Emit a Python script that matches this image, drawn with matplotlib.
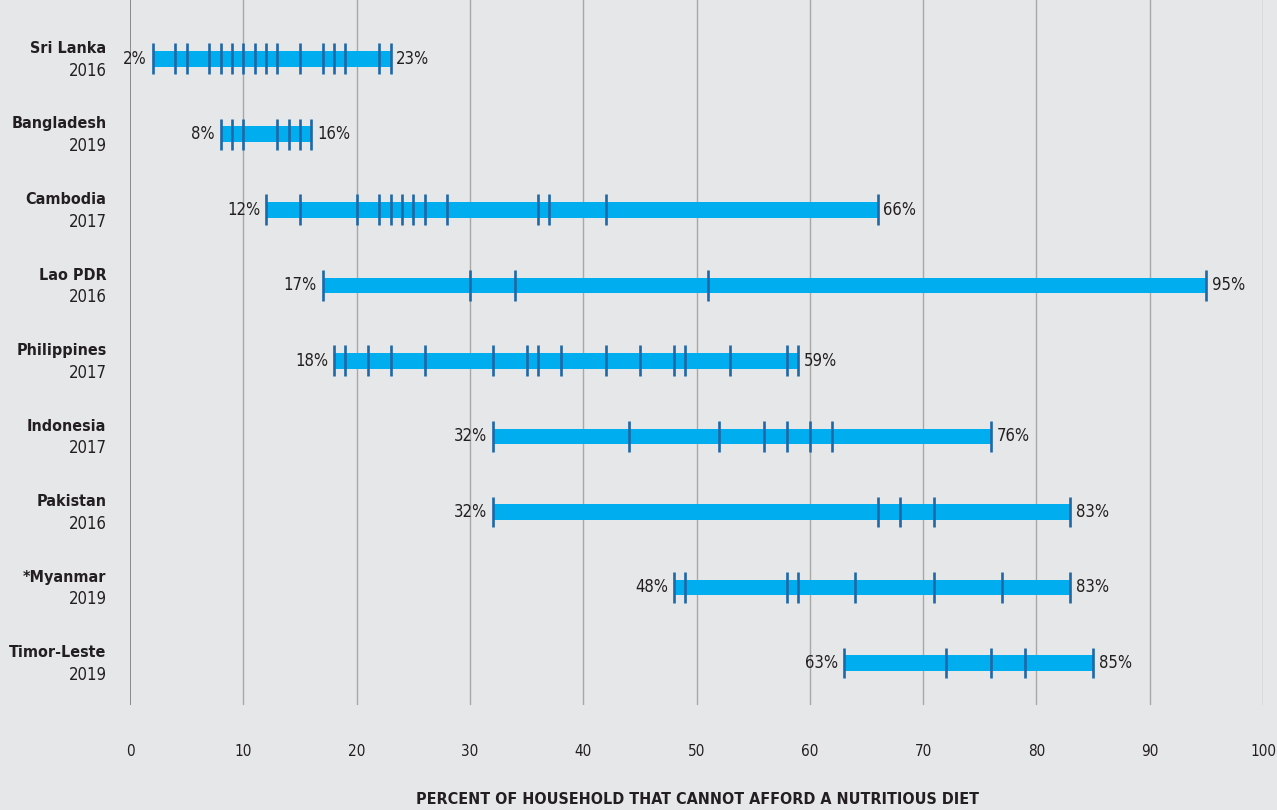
import matplotlib
matplotlib.use("Agg")
from matplotlib import pyplot as plt

# Countries (top to bottom) and survey years
countries = ["Sri Lanka", "Bangladesh", "Cambodia", "Lao PDR", "Philippines",
             "Indonesia", "Pakistan", "*Myanmar", "Timor-Leste"]
years = ["2016", "2019", "2017", "2016", "2017", "2017", "2016", "2019", "2019"]

# Sub-national values (percent of households that cannot afford a nutritious diet)
sri_lanka = [2, 4, 5, 7, 8, 9, 10, 11, 12, 13, 15, 17, 18, 19, 22, 23]
bangladesh = [8, 9, 10, 13, 14, 15, 16]
cambodia = [12, 15, 20, 22, 23, 24, 25, 26, 28, 36, 37, 42, 66]
lao = [17, 30, 34, 51, 95]
philippines = [18, 19, 21, 23, 26, 32, 35, 36, 38, 42, 45, 48, 49, 53, 58, 59]
indonesia = [32, 44, 52, 56, 58, 60, 62, 76]
pakistan = [32, 66, 68, 71, 83]
myanmar = [48, 49, 58, 59, 64, 71, 77, 83]
timor_leste = [63, 72, 76, 79, 85]

values = [sri_lanka, bangladesh, cambodia, lao, philippines,
          indonesia, pakistan, myanmar, timor_leste]
xticks = list(range(0, 101, 10))

BG = "#e6e7e9"
BAR = "#00aeef"
TICK = "#1f68a8"
TXT = "#231f20"

plt.rcParams["font.family"] = ["DejaVu Sans"]
plt.rcParams["font.stretch"] = "condensed"

fig = plt.figure(figsize=(12.77, 8.10), dpi=100, facecolor=BG)
ax = fig.add_axes([130 / 1277, 1 - 705 / 810, (1263 - 130) / 1277, 705 / 810])
ax.set_facecolor(BG)

for i, vals in enumerate(values):
	lo, hi = min(vals), max(vals)
	ax.barh(i, hi - lo, left=lo, height=0.21, color=BAR, zorder=3)
	ax.vlines(vals, i - 0.205, i + 0.205, color=TICK, linewidth=1.9, zorder=4)
	ax.annotate(f"{lo}%", (lo, i), xytext=(-4, 0), textcoords="offset points",
	            ha="right", va="center", fontsize=12, fontstretch="condensed",
	            color=TXT, zorder=5)
	ax.annotate(f"{hi}%", (hi, i), xytext=(4, 0), textcoords="offset points",
	            ha="left", va="center", fontsize=12, fontstretch="condensed",
	            color=TXT, zorder=5)
	ax.annotate(countries[i], (0, i), xytext=(-17, 7.5), textcoords="offset points",
	            ha="right", va="center", fontsize=11.5, fontweight="bold",
	            fontstretch="condensed", color=TXT, annotation_clip=False)
	ax.annotate(years[i], (0, i), xytext=(-17, -8.5), textcoords="offset points",
	            ha="right", va="center", fontsize=12, fontstretch="condensed",
	            color=TXT, annotation_clip=False)

ax.set_xlim(0, 100)
ax.set_ylim(8.556, -0.78)
ax.set_xticks(xticks)
ax.set_xticklabels([str(t) for t in xticks], fontsize=11, color=TXT,
                   fontstretch="condensed")
ax.set_yticks([])
ax.tick_params(axis="x", length=0, pad=28)
for t in xticks:
	ax.axvline(t, color="#8a8a8a" if t == 0 else "#a8a8a8",
	           linewidth=1.4 if t == 0 else 1.0, zorder=1)
for s in ax.spines.values():
	s.set_visible(False)

fig.text(697 / 1277, 1 - 800 / 810, "PERCENT OF HOUSEHOLD THAT CANNOT AFFORD A NUTRITIOUS DIET",
         ha="center", va="center", fontsize=11.5, fontweight="bold",
         fontstretch="condensed", color=TXT)

plt.savefig("out.png", facecolor=BG)
plt.close()
